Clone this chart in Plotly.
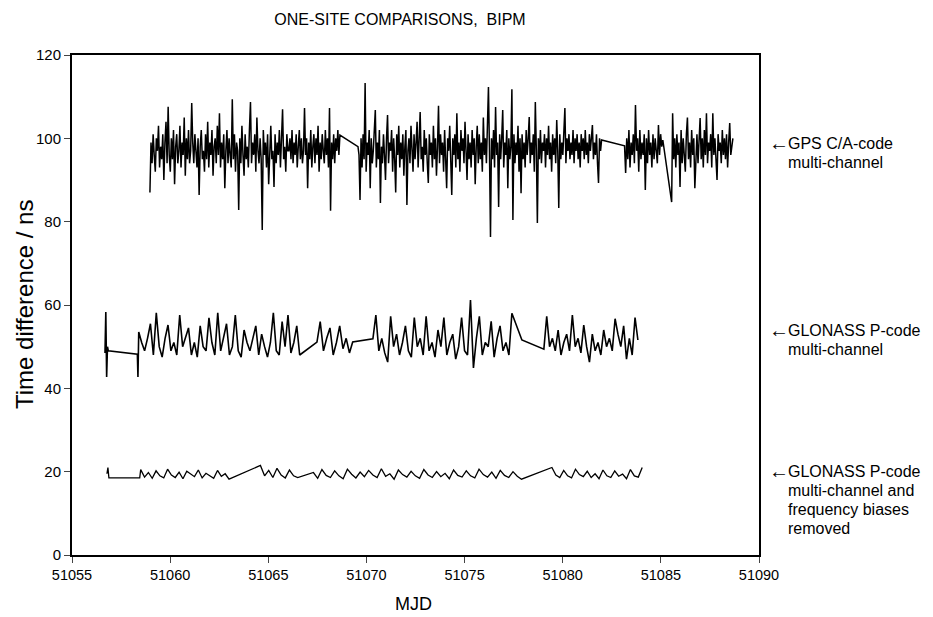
import numpy as np
import plotly.graph_objects as go

# ---------------- GPS C/A-code multi-channel (ns) ----------------
gps_a = [87, 99, 94, 101, 96, 92, 100, 97, 103, 93, 98, 95, 101, 90, 99, 104, 94, 107.6, 96, 92,
         100, 95, 102, 89, 98, 101, 94, 97, 103, 93, 99, 96, 105, 91, 100, 95, 102, 94, 97, 108.5]
gps_b = [99, 94, 101, 96, 93, 100, 86.4, 98, 102, 95,
         97, 92, 101, 95, 104, 93, 99, 96, 102, 91,
         98, 100, 94, 103, 96, 106, 93, 99, 95, 101,
         88, 97, 102, 94, 100, 96, 93, 109.4, 95, 101,
         92, 99, 97, 82.8, 100, 94, 103, 96, 91, 101,
         95, 98, 93, 102, 108.7, 94, 99, 96, 101, 92,
         105, 97, 94, 100, 95, 78, 102, 96, 99, 93,
         101, 89, 98, 103, 95, 97, 88.3, 101, 94, 99,
         96, 102, 93, 100, 107, 95, 98, 92, 101, 97]
gps_c = [97, 100, 95, 102, 94, 99, 96, 101, 93, 98,
         102, 95, 100, 94, 97, 107.3, 96, 100, 88, 99,
         95, 102, 93, 98, 101, 94, 100, 96, 103, 92,
         99, 95, 101, 97, 94, 102, 96, 100, 93, 107.3,
         82.6, 99, 95, 101, 94, 100, 97, 102, 96, 100.8]
gps_d = [98, 96, 85.2, 100, 93, 101, 95, 113.3, 92, 99,
         96, 102, 88, 100, 94, 97, 101, 106.8, 93, 99,
         95, 102, 84.5, 98, 94, 101, 96, 90, 100, 105.6,
         94, 99, 97, 102, 92, 100, 95, 87, 101, 96,
         103, 93, 99, 95, 101, 91, 98, 102, 84, 97,
         100, 94, 103, 96, 92, 101, 95, 99, 104, 93,
         100, 106.3, 95, 98, 92, 102, 96, 100, 94, 89.3,
         101, 96, 99, 93, 103, 95, 100, 91, 98, 107.8,
         94, 101, 96, 99, 92, 102, 95, 88, 100, 97,
         103, 94, 86.4, 100, 96, 101, 93, 106, 95, 99,
         92, 102, 97, 100, 94, 104, 96, 90, 101, 95,
         99, 93, 102, 96, 100, 89, 98, 103, 94, 101,
         95, 99, 92, 105, 96, 100, 94, 101, 112.3, 97,
         76.3, 100, 95, 102, 93, 107.5, 96, 99, 83.5, 101,
         95, 100, 106.8, 93, 99, 96, 102, 88, 100, 95,
         98, 111.8, 80.4, 101, 94, 99, 96, 103, 92, 100,
         86.8, 101, 95, 99, 93, 102, 96, 100, 105.1, 94,
         99, 96, 101, 92, 108.7, 97, 79.7, 100, 95, 102,
         94, 99, 97, 101, 93, 100, 96, 103, 95, 99,
         92, 101, 96, 100, 94, 104.4, 97, 83.3, 101, 95,
         99, 96, 102, 107.3, 94, 100, 97, 101, 95, 99,
         96, 102, 94, 100, 97, 101, 95, 99, 93, 101,
         97, 100, 95, 102, 96, 99, 94, 101, 97, 100,
         103.2, 95, 99, 96, 101, 94, 89.3, 100, 97, 99.6]
gps_e = [98.2, 91.7, 100, 95, 102, 93, 99, 96, 101, 94,
         108, 97, 100, 92, 102, 95, 99, 96, 101, 87.6,
         100, 94, 102, 96, 99, 93, 101, 95, 100, 97,
         94, 103.2, 96, 101, 98, 99.6]
gps_dip = [84.7]
gps_f = [106, 95, 100, 93, 101, 96, 99, 88.3, 102, 94,
         100, 96, 92, 101, 105, 95, 99, 93, 102, 96,
         100, 88, 97, 101, 94, 99, 104.9, 95, 100, 93,
         102, 96, 106, 94, 99, 97, 101, 93, 106, 96,
         100, 95, 90, 101, 97, 99, 94, 102, 96, 100,
         95, 101, 93, 99, 103.7, 96, 98, 100]

gps_segments = [
    (51058.97, 51061.10, gps_a),
    (51061.15, 51066.00, gps_b),
    (51066.05, 51068.65, gps_c),
    (51069.57, 51081.98, gps_d),
    (51083.15, 51085.10, gps_e),
    (51085.55, 51085.55, gps_dip),
    (51085.60, 51088.67, gps_f),
]

# ---------------- GLONASS P-code multi-channel (ns) ----------------
glo_0 = [48.5, 58.3, 42.7, 50, 49]
glo_flat = [48.2]
glo_drop = [42.7]
glo_1 = [53.5, 51, 49, 52, 55.5, 48, 58.1, 50, 47.5, 52,
         55.2, 49, 51, 48, 57.6, 50, 52, 54.5, 48, 51,
         47.5, 55, 50, 49, 56.9, 51, 48, 58.1, 49, 52,
         55.5, 48, 50, 57.6, 49, 47.5, 54, 51, 49, 52,
         55, 48, 53, 50, 47.5, 51, 58.1, 49, 48, 56,
         50, 57.6, 48.5, 51, 55, 48]
glo_2 = [51.1, 56, 49, 52, 54.5, 48, 51, 55, 49.5, 52, 48.5, 51.1]
glo_3 = [51.9, 57.6, 49, 52, 48.5, 46.3, 57.3, 50, 53, 48,
         51, 55, 49, 47.5, 57, 50, 52, 48, 57.3, 49,
         51, 47.5, 54, 50, 57, 48, 51, 53, 47, 50,
         57, 49, 48, 61.2, 44.9, 52, 57.3, 48, 51, 50,
         56.1, 47.5, 52, 55, 49, 51, 48, 58]
glo_4 = [51.6]
glo_5 = [49.4, 57.3, 50, 52, 49, 54, 48, 51, 53, 49,
         57.6, 50, 52, 48.5, 55.2, 50, 46.3, 53, 49, 51,
         48, 54, 50, 52, 49, 56.7, 53, 50, 55, 47,
         52, 48, 57, 51.6]

glo_segments = [
    (51056.68, 51056.85, glo_0),
    (51058.33, 51058.33, glo_flat),
    (51058.36, 51058.36, glo_drop),
    (51058.40, 51066.60, glo_1),
    (51067.48, 51069.30, glo_2),
    (51070.33, 51077.41, glo_3),
    (51077.92, 51077.92, glo_4),
    (51079.04, 51083.83, glo_5),
]

# ------- GLONASS P-code multi-channel, frequency biases removed (ns) -------
fb_0 = [19.5, 21, 18.5]
fb_flat = [18.5]
fb_1 = [20.5, 18.7, 19.8, 18.4, 20.2, 19, 18.5, 20.6, 19.2, 18.6, 19.9, 18.3, 20.1, 19.4, 18.8, 20.4,
        18.5, 19.6, 19, 18.4, 20.3, 18.9, 19.5, 18.2]
fb_2 = [21.5, 19, 20.3, 18.6, 20.8, 19.2, 18.5, 20.4, 19, 18.6]
fb_3 = [19.8, 18.4, 20.5, 19.1, 18.6, 20.2, 19, 18.3, 20.6, 19.4,
        18.5, 19.9, 18.8, 20.3, 19.2, 18.6, 20.7, 18.9, 19.5, 18.2,
        20.4, 19.3, 18.7, 20.1, 19, 18.4, 20.5, 19.2, 18.6, 20,
        18.8, 19.6, 18.3, 20.4, 19.1, 18.7, 20.2, 19, 18.5, 20.6,
        19.3, 18.7, 19.9, 18.4, 20.3, 19.1, 18.6, 20, 18.9, 18.2]
fb_4 = [21, 19.2, 18.6, 20.3, 19, 18.5, 20.6, 19.3, 18.8, 20.1, 18.6, 19.5, 18.3, 20.4, 19, 18.6,
        20.2, 18.9, 19.4, 18.3, 20.5, 19, 18.7, 21]

fb_segments = [
    (51056.78, 51056.88, fb_0),
    (51058.45, 51058.45, fb_flat),
    (51058.50, 51063.00, fb_1),
    (51064.60, 51066.50, fb_2),
    (51067.30, 51077.90, fb_3),
    (51079.45, 51084.05, fb_4),
]

x_ticks = [51055, 51060, 51065, 51070, 51075, 51080, 51085, 51090]
y_ticks = [0, 20, 40, 60, 80, 100, 120]

label_lines = [
    ["GPS C/A-code", "multi-channel"],
    ["GLONASS P-code", "multi-channel"],
    ["GLONASS P-code", "multi-channel and", "frequency biases", "removed"],
]


def build(segments):
    t, v = [], []
    for s, e, vals in segments:
        if len(vals) == 1:
            t.append(s)
        else:
            t.extend(np.linspace(s, e, len(vals)).tolist())
        v.extend(vals)
    return t, v


# page has an 8px body margin: figure is offset by 8px, so size/margins compensate
OFF = 8
W, H = 933 - OFF, 617 - OFF
PL, PR, PT, PB = 72, 759, 55, 555   # plot area in page pixels


def px(xpix):
    return (xpix - PL) / (PR - PL)


def py(ypix):
    return (PB - ypix) / (PB - PT)


FONT = "Liberation Sans, Arial, sans-serif"
fig = go.Figure()
for segs, w in [(gps_segments, 1.5), (glo_segments, 1.6), (fb_segments, 1.3)]:
    t, v = build(segs)
    fig.add_trace(go.Scatter(x=t, y=v, mode="lines", line=dict(color="black", width=w),
                             showlegend=False, hoverinfo="skip"))

fig.update_layout(
    width=W, height=H,
    margin=dict(l=PL - OFF, r=W - (PR - OFF), t=PT - OFF, b=H - (PB - OFF)),
    paper_bgcolor="white", plot_bgcolor="white",
    font=dict(family=FONT, color="black", size=14),
    title=dict(text="ONE-SITE COMPARISONS,  BIPM", x=(400 - OFF) / W, xanchor="center",
               y=1 - (19 - OFF) / H, yanchor="middle", font=dict(size=16, family=FONT)),
)
fig.update_xaxes(range=[51055, 51090], tickvals=x_ticks, ticktext=[str(v) for v in x_ticks],
                 ticks="outside", ticklen=6,
                 showline=True, linecolor="black", linewidth=2, mirror=True,
                 showgrid=False, zeroline=False, tickfont=dict(size=14.5))
fig.update_yaxes(range=[0, 120], tickvals=y_ticks, ticktext=[str(v) for v in y_ticks],
                 ticks="outside", ticklen=6,
                 showline=True, linecolor="black", linewidth=2, mirror=True,
                 showgrid=False, zeroline=False, tickfont=dict(size=15))

fig.add_annotation(text="Time difference / ns", xref="paper", yref="paper",
                   x=px(24), y=py(305), textangle=-90, showarrow=False,
                   font=dict(size=24), xanchor="center", yanchor="middle")
fig.add_annotation(text="MJD", xref="paper", yref="paper", x=px(413), y=py(604),
                   showarrow=False, font=dict(size=18), xanchor="center", yanchor="middle")

label_y0 = [143, 330, 471]
for y0, lines in zip(label_y0, label_lines):
    fig.add_annotation(text="←", xref="paper", yref="paper", x=px(767), y=py(y0),
                       xanchor="left", yanchor="middle", showarrow=False, font=dict(size=20))
    for i, line in enumerate(lines):
        fig.add_annotation(text=line, xref="paper", yref="paper", x=px(786),
                           y=py(y0 + 19 * i), xanchor="left", yanchor="middle",
                           showarrow=False, font=dict(size=16))

fig.write_html("out.html")
